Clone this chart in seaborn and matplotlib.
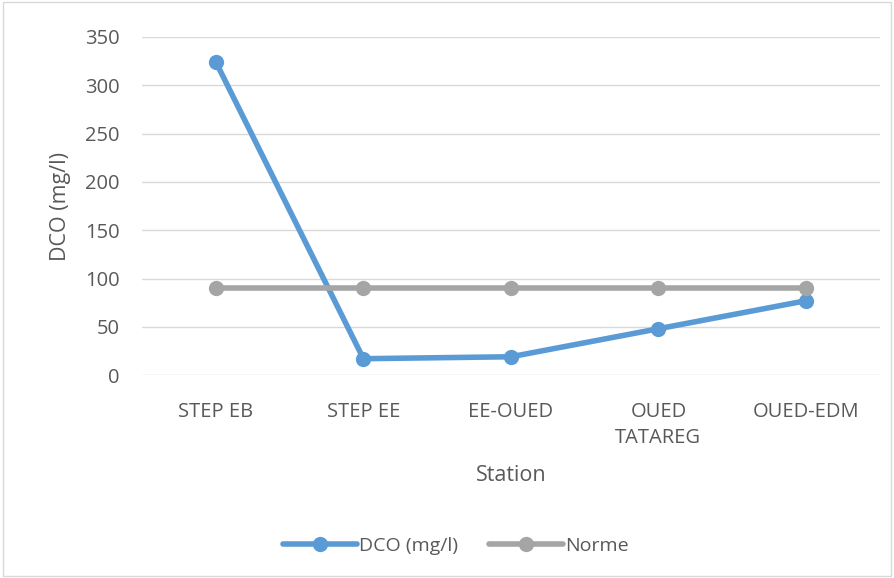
import matplotlib.pyplot as plt
import pandas as pd
import seaborn as sns

# Data
stations = ['STEP EB', 'STEP EE', 'EE-OUED', 'OUED\nTATAREG', 'OUED-EDM']
dco = [324, 17, 19, 48, 77]
norme = [90, 90, 90, 90, 90]

df = pd.DataFrame({'Station': stations * 2,
                   'value': dco + norme,
                   'serie': ['DCO (mg/l)'] * 5 + ['Norme'] * 5})

sns.set_style("white")
plt.rcParams['font.family'] = ['Open Sans', 'DejaVu Sans']
text_col = '#595959'

fig = plt.figure(figsize=(8.94, 5.78), dpi=100)
ax = fig.add_axes([0.159, 0.351, 0.825, 0.585])

sns.lineplot(data=df, x='Station', y='value', hue='serie',
             palette={'DCO (mg/l)': '#5B9BD5', 'Norme': '#A5A5A5'},
             hue_order=['DCO (mg/l)', 'Norme'],
             marker='o', markersize=11, markeredgewidth=0,
             linewidth=4, ax=ax, sort=False)

ax.set_xlim(-0.5, 4.5)
ax.set_ylim(0, 350)
ax.set_yticks(range(0, 351, 50))
ax.yaxis.grid(True, color='#D9D9D9', linewidth=1)
ax.set_axisbelow(True)
for s in ax.spines.values():
    s.set_visible(False)
ax.tick_params(axis='both', length=0, labelsize=14.5, colors=text_col)
ax.tick_params(axis='x', pad=19)
ax.tick_params(axis='y', pad=16)
for lbl in ax.get_xticklabels():
    lbl.set_linespacing(1.45)

ax.set_xlabel('Station', fontsize=15.5, color=text_col, labelpad=12)
ax.set_ylabel('DCO (mg/l)', fontsize=15.5, color=text_col, labelpad=10)

leg = ax.legend(loc='center', bbox_to_anchor=(0.51, 0.056),
                bbox_transform=fig.transFigure, ncol=2, frameon=False,
                fontsize=14, handlelength=3.8, columnspacing=1.6,
                handletextpad=0.1)
for t in leg.get_texts():
    t.set_color(text_col)

# outer chart border
fig.patches.append(plt.Rectangle((0.003, 0.003), 0.994, 0.994,
                                 transform=fig.transFigure, fill=False,
                                 edgecolor='#D9D9D9', linewidth=1))

fig.savefig('out.png', dpi=100)
